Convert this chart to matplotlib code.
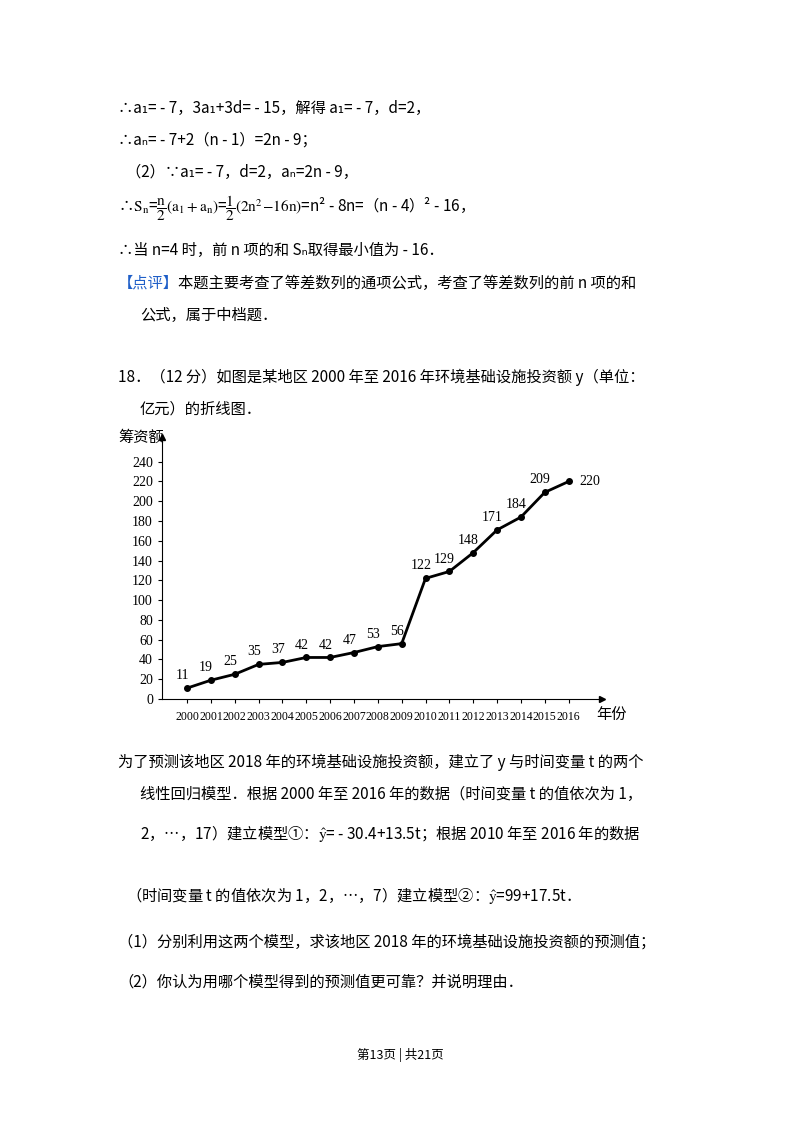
import matplotlib.pyplot as plt

plt.rcParams['font.family'] = ['Noto Sans CJK SC', 'DejaVu Sans']
plt.rcParams['mathtext.fontset'] = 'stix'

# -- Data ----------------------------------------------------------------------
years = list(range(2000, 2017))
amounts = [11, 19, 25, 35, 37, 42, 42, 47, 53, 56, 122, 129, 148, 171, 184, 209, 220]
y_ticks = [0, 20, 40, 60, 80, 100, 120, 140, 160, 180, 200, 220, 240]

W, H = 800, 1132
fig = plt.figure(figsize=(W / 100, H / 100), dpi=100)
FS = 11


def put(x, y, s, **kw):
    kw.setdefault('fontsize', FS)
    fig.text(x / W, 1 - y / H, s, va='center', ha=kw.pop('ha', 'left'), **kw)


# -- Page text -----------------------------------------------------------------
put(118, 108, "∴a₁= - 7，3a₁+3d= - 15，解得 a₁= - 7，d=2，")
put(118, 140, "∴aₙ= - 7+2（n - 1）=2n - 9；")
put(126, 172, "（2）∵a₁= - 7，d=2，aₙ=2n - 9，")
put(118, 208, r"∴$\mathrm{S_n}$=$\dfrac{\mathrm{n}}{2}(\mathrm{a_1+a_n})$=$\dfrac{1}{2}(\mathrm{2n^2\!-\!16n})$=n² - 8n=（n - 4）² - 16，")
put(118, 250, "∴当 n=4 时，前 n 项的和 Sₙ取得最小值为 - 16．")
put(118, 283, "【点评】", color='#1f5fc8')
put(178, 283, "本题主要考查了等差数列的通项公式，考查了等差数列的前 n 项的和")
put(140, 315, "公式，属于中档题．")
put(118, 377, "18．（12 分）如图是某地区 2000 年至 2016 年环境基础设施投资额 y（单位：")
put(140, 409, "亿元）的折线图．")
put(118, 762, "为了预测该地区 2018 年的环境基础设施投资额，建立了 y 与时间变量 t 的两个")
put(140, 794, "线性回归模型．根据 2000 年至 2016 年的数据（时间变量 t 的值依次为 1，")
put(140, 834, r"2，…，17）建立模型①：$\hat{\mathrm{y}}$= - 30.4+13.5t；根据 2010 年至 2016 年的数据")
put(126, 896, r"（时间变量 t 的值依次为 1，2，…，7）建立模型②：$\hat{\mathrm{y}}$=99+17.5t．")
put(118, 942, "（1）分别利用这两个模型，求该地区 2018 年的环境基础设施投资额的预测值；")
put(118, 982, "（2）你认为用哪个模型得到的预测值更可靠？并说明理由．")
put(400, 1055, "第13页 | 共21页", ha='center', fontsize=9)

# -- Chart ---------------------------------------------------------------------
ax = fig.add_axes([162 / W, 1 - 699 / H, 440 / W, 262 / H])
ax.plot(years, amounts, color='black', lw=2, marker='o', ms=4)
ax.set_xlim(1998.95, 2017.4)
ax.set_ylim(0, 265)
serif = {'family': 'Liberation Serif', 'size': 10}
for x, v in zip(years, amounts):
    dx, dy = (0.45, 0) if x == 2016 else (-0.2, 6)
    ax.text(x + dx, v + dy, str(v), ha='left' if x == 2016 else 'center',
            va='center' if x == 2016 else 'bottom', fontdict=serif)
ax.set_xticks(years)
ax.set_xticklabels([str(y) for y in years], fontdict={'family': 'Liberation Serif', 'size': 8.5})
ax.set_yticks(y_ticks)
ax.set_yticklabels([str(t) for t in y_ticks], fontdict=serif)
ax.tick_params(axis='x', length=3, pad=6)
ax.tick_params(axis='y', length=3)
for s in ('top', 'right'):
    ax.spines[s].set_visible(False)
ax.plot(1, 0, '>k', ms=5, transform=ax.transAxes, clip_on=False)
ax.plot(0, 1, '^k', ms=5, transform=ax.transAxes, clip_on=False)
put(118, 437, "筹资额", fontsize=11)
put(596, 714, "年份", fontsize=11)

fig.savefig('out.png', dpi=100)
